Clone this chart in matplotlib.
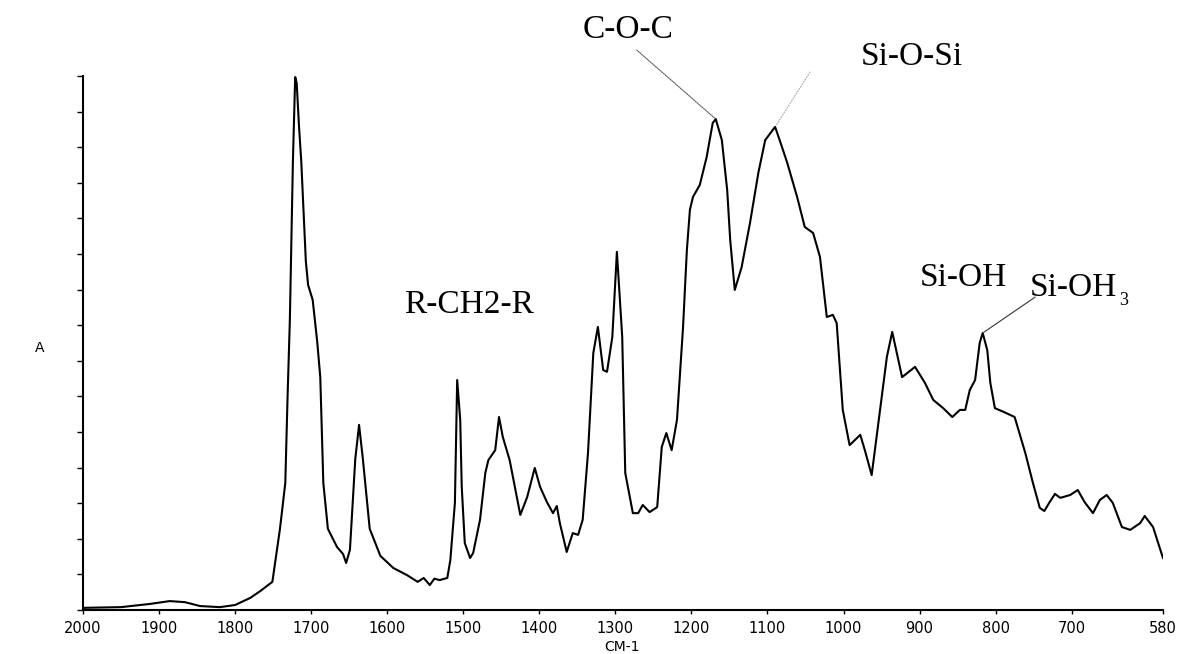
import numpy as np
import matplotlib.pyplot as plt

plt.rcParams['font.family'] = 'DejaVu Sans'

# FTIR spectrum: wavenumber (cm-1) and absorbance (arbitrary units)
wavenumber = [
    2000, 1950, 1912, 1886, 1866, 1846, 1820, 1800, 1780, 1767, 1751, 1741,
    1734, 1731, 1728, 1724, 1721, 1719, 1716, 1713, 1707, 1704, 1698, 1692, 1688, 1684,
    1678, 1666, 1658, 1654, 1649, 1642, 1637, 1632, 1623, 1609, 1592, 1574,
    1560, 1552, 1544, 1538, 1531, 1521, 1517, 1511, 1508, 1504, 1502, 1498,
    1491, 1487, 1478, 1471, 1467, 1458, 1453, 1448, 1439, 1425, 1416, 1406,
    1399, 1390, 1382, 1377, 1373, 1364, 1356, 1349, 1343, 1336, 1329, 1323,
    1316, 1311, 1304, 1298, 1291, 1287, 1277, 1270, 1264, 1255, 1245, 1239,
    1233, 1226, 1219, 1211, 1206, 1202, 1198, 1189, 1180, 1172, 1168, 1160,
    1153, 1149, 1143, 1134, 1123, 1112, 1103, 1090, 1084, 1074, 1061, 1051,
    1040, 1031, 1022, 1014, 1009, 1001, 992, 978, 972, 963, 952, 943, 936,
    923, 906, 893, 882, 869, 857, 847, 840, 834, 827, 821, 817, 811, 807,
    801, 788, 775, 761, 751, 742, 736, 729, 722, 715, 702, 692, 683, 672, 663,
    654, 646, 634, 623, 610, 604, 593, 580,
]
absorbance = [
    0.06, 0.08, 0.17, 0.25, 0.22, 0.11, 0.08, 0.14, 0.34, 0.53, 0.79, 2.28,
    3.57, 6.0, 8.15, 12.6, 14.97, 14.8, 13.6, 12.6, 9.8, 9.13, 8.71, 7.53, 6.54, 3.57,
    2.28, 1.77, 1.57, 1.32, 1.69, 4.24, 5.20, 4.24, 2.28, 1.52, 1.18, 0.98,
    0.79, 0.90, 0.70, 0.88, 0.84, 0.90, 1.40, 3.01, 6.46, 5.34, 3.46, 1.88,
    1.46, 1.60, 2.53, 3.85, 4.21, 4.49, 5.42, 4.86, 4.21, 2.67, 3.17, 3.99,
    3.46, 3.03, 2.72, 2.92, 2.44, 1.63, 2.16, 2.11, 2.53, 4.41, 7.22, 7.95,
    6.74, 6.69, 7.67, 10.06, 7.67, 3.85, 2.72, 2.72, 2.95, 2.75, 2.89, 4.58,
    4.97, 4.49, 5.34, 7.95, 10.11, 11.24, 11.60, 11.94, 12.72, 13.68, 13.79, 13.20,
    11.80, 10.39, 8.99, 9.63, 10.87, 12.28, 13.20, 13.57, 13.20, 12.56, 11.60, 10.76,
    10.59, 9.92, 8.23, 8.29, 8.06, 5.62, 4.63, 4.92, 4.49, 3.79, 5.62, 7.11, 7.81,
    6.54, 6.83, 6.38, 5.90, 5.67, 5.42, 5.62, 5.62, 6.18, 6.46, 7.50, 7.78, 7.30, 6.38,
    5.67, 5.55, 5.42, 4.41, 3.57, 2.87, 2.78, 3.03, 3.26, 3.15, 3.23, 3.37, 3.03, 2.72, 3.09,
    3.23, 3.01, 2.33, 2.25, 2.44, 2.64, 2.33, 1.46,
]

x_ticks = [2000, 1900, 1800, 1700, 1600, 1500, 1400, 1300, 1200, 1100, 1000, 900, 800, 700, 580]

wn = np.array(wavenumber)
ab = np.array(absorbance)


def peak(lo, hi):
    m = (wn >= lo) & (wn <= hi)
    i = np.argmax(np.where(m, ab, -1))
    return wn[i], ab[i]


fig = plt.figure(figsize=(11.89, 6.54), dpi=100)
ax = fig.add_axes([0.0698, 0.0673, 0.9083, 0.8165])

ax.plot(wn, ab, color='black', linewidth=1.5)

ax.set_xlim(2000, 580)
ax.set_ylim(0, 15)
ax.set_xticks(x_ticks)
ax.set_xticklabels([str(t) for t in x_ticks], fontsize=10.5)
ax.set_yticks(np.arange(0, 16, 1))
ax.set_yticklabels([])
ax.tick_params(axis='x', direction='out', length=3, width=1, pad=5)
ax.tick_params(axis='y', direction='out', length=4, width=1)
for s in ['top', 'right']:
    ax.spines[s].set_visible(False)
ax.spines['left'].set_linewidth(1.5)
ax.spines['bottom'].set_linewidth(1.5)

fig.text(40 / 1189, 1 - 348 / 654, 'A', fontsize=10, ha='center', va='center')
fig.text(622 / 1189, 1 - 647 / 654, 'CM-1', fontsize=10, ha='center', va='center')

# band assignments
serif = dict(family='Liberation Serif', fontsize=24, color='black')
ax.text(1283, 16.29, 'C-O-C', ha='center', va='center', **serif)
ax.text(910, 15.53, 'Si-O-Si', ha='center', va='center', **serif)
ax.text(1492, 8.57, 'R-CH2-R', ha='center', va='center', **serif)
ax.text(843, 9.33, 'Si-OH', ha='center', va='center', **serif)
ax.text(755, 9.04, 'Si-OH', ha='left', va='center', **serif)
ax.text(637, 8.7, '3', ha='left', va='center', family='Liberation Serif', fontsize=13)

leaders = [
    (peak(1150, 1200), (1272, 15.73), '#555555', (0, (1, 1))),
    (peak(1070, 1110), (1044, 15.11), '#aaaaaa', (0, (1, 1.5))),
    (peak(800, 830), (748, 8.79), '#333333', '-'),
]
for xy, start, c, ls in leaders:
    ax.annotate('', xy=xy, xytext=start, annotation_clip=False,
                arrowprops=dict(arrowstyle='-', color=c, lw=0.8, linestyle=ls,
                                shrinkA=0, shrinkB=1))

fig.savefig('out.png', dpi=100)
